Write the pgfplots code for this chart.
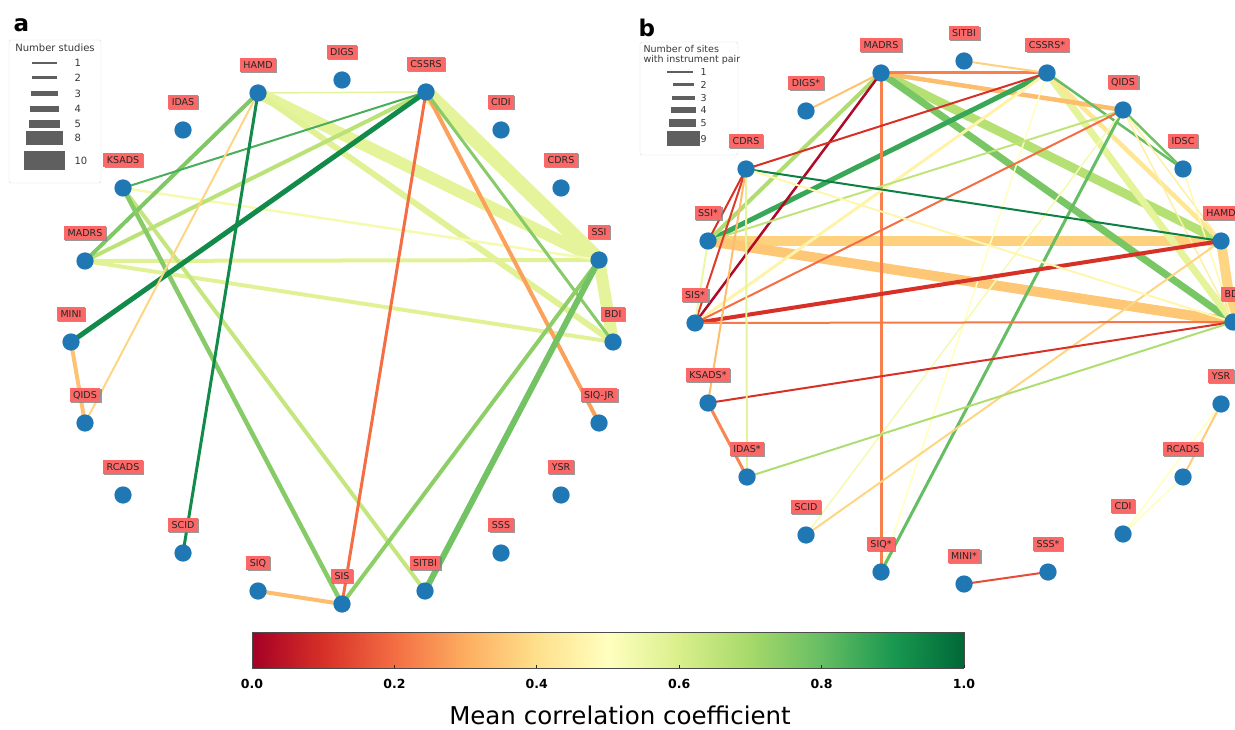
\documentclass[border=0pt]{standalone}
\usepackage{fontspec}
\setmainfont{DejaVu Sans}
\usepackage{pgfplots}
\pgfplotsset{compat=1.18}
\usetikzlibrary{shadows}
\definecolor{nodeblue}{RGB}{31,119,180}
\definecolor{labred}{RGB}{250,104,104}
\definecolor{leggray}{RGB}{95,95,95}
\definecolor{legtxt}{RGB}{55,55,55}
\pgfplotsset{
  colormap={RdYlGn}{rgb255=(165,0,38) rgb255=(215,48,39) rgb255=(244,109,67) rgb255=(253,174,97) rgb255=(254,224,139) rgb255=(255,255,191) rgb255=(217,239,139) rgb255=(166,217,106) rgb255=(102,189,99) rgb255=(26,152,80) rgb255=(0,104,55)},
  edge/.style={mesh, point meta=#1},
  netnodes/.style={only marks, mark=*, mark size=8.5pt,
    mark options={draw=nodeblue, fill=nodeblue, line width=0.1pt},
    nodes near coords, point meta=explicit symbolic,
    every node near coord/.append style={anchor=center, yshift=28pt,
      font=\fontsize{9.5}{11}\selectfont, text=black!85, fill=labred, draw=none,
      inner xsep=3.5pt, inner ysep=2pt, text height=1.55ex, text depth=0.25ex,
      drop shadow={shadow xshift=1.2pt, shadow yshift=-1.2pt, fill=black!50, draw=none, opacity=0.8}}},
  legline/.style={line width=#1, color=leggray, line cap=butt},
}
\begin{document}
\begin{tikzpicture}
\begin{axis}[scale only axis, width=1235pt, height=730pt,
  xmin=0, xmax=1235, ymin=0, ymax=730, y dir=reverse, hide axis,
  colormap name=RdYlGn, point meta min=0, point meta max=1]
% ---------------- panel a edges ----------------
\addplot[edge=0.57, line width=15pt] coordinates {(426,92) (599,260)};
\addplot[edge=0.57, line width=12pt] coordinates {(258,93) (599,260)};
\addplot[edge=0.57, line width=12pt] coordinates {(599,260) (613,342)};
\addplot[edge=0.58, line width=6pt] coordinates {(258,93) (613,342)};
\addplot[edge=0.58, line width=4pt] coordinates {(85,261) (599,260)};
\addplot[edge=0.58, line width=4pt] coordinates {(85,261) (613,342)};
\addplot[edge=0.53, line width=2.5pt] coordinates {(123,188) (599,260)};
\addplot[edge=0.57, line width=1.5pt] coordinates {(258,93) (426,92)};
\addplot[edge=0.64, line width=4pt] coordinates {(123,188) (425,591)};
\addplot[edge=0.66, line width=4pt] coordinates {(85,261) (426,92)};
\addplot[edge=0.76, line width=4pt] coordinates {(258,93) (85,261)};
\addplot[edge=0.75, line width=4.5pt] coordinates {(123,188) (342,604)};
\addplot[edge=0.84, line width=2pt] coordinates {(123,188) (426,92)};
\addplot[edge=0.93, line width=5pt] coordinates {(71,342) (426,92)};
\addplot[edge=0.93, line width=3pt] coordinates {(258,93) (183,553)};
\addplot[edge=0.38, line width=2pt] coordinates {(258,93) (85,423)};
\addplot[edge=0.34, line width=4pt] coordinates {(71,342) (85,423)};
\addplot[edge=0.20, line width=3pt] coordinates {(426,92) (342,604)};
\addplot[edge=0.28, line width=4pt] coordinates {(426,92) (599,423)};
\addplot[edge=0.75, line width=3pt] coordinates {(426,92) (613,342)};
\addplot[edge=0.74, line width=4pt] coordinates {(599,260) (342,604)};
\addplot[edge=0.78, line width=6pt] coordinates {(599,260) (425,591)};
\addplot[edge=0.33, line width=4pt] coordinates {(258,591) (342,604)};
% ---------------- panel b edges ----------------
\addplot[edge=0.37, line width=10pt] coordinates {(708,241) (1221,241)};
\addplot[edge=0.35, line width=10pt] coordinates {(708,241) (1233,322)};
\addplot[edge=0.38, line width=10pt] coordinates {(1221,241) (1233,322)};
\addplot[edge=0.67, line width=9pt] coordinates {(881,73) (1221,241)};
\addplot[edge=0.77, line width=7pt] coordinates {(881,73) (1233,322)};
\addplot[edge=0.57, line width=7pt] coordinates {(1047,73) (1233,322)};
\addplot[edge=0.42, line width=4.5pt] coordinates {(1047,73) (1221,241)};
\addplot[edge=0.33, line width=4.5pt] coordinates {(881,73) (1123,110)};
\addplot[edge=0.86, line width=5pt] coordinates {(708,241) (1047,73)};
\addplot[edge=0.68, line width=4pt] coordinates {(881,73) (708,241)};
\addplot[edge=0.23, line width=3pt] coordinates {(881,73) (1047,73)};
\addplot[edge=0.23, line width=3pt] coordinates {(881,73) (881,572)};
\addplot[edge=0.02, line width=2.5pt] coordinates {(881,73) (695,323)};
\addplot[edge=0.34, line width=2pt] coordinates {(881,73) (806,111)};
\addplot[edge=0.37, line width=2pt] coordinates {(964,61) (1047,73)};
\addplot[edge=0.10, line width=2pt] coordinates {(746,169) (1047,73)};
\addplot[edge=0.46, line width=3pt] coordinates {(695,323) (1047,73)};
\addplot[edge=0.50, line width=1.5pt] coordinates {(881,572) (1047,73)};
\addplot[edge=0.80, line width=2.5pt] coordinates {(1047,73) (1183,169)};
\addplot[edge=0.78, line width=2.5pt] coordinates {(1123,110) (1183,169)};
\addplot[edge=0.45, line width=1.5pt] coordinates {(1123,110) (1221,241)};
\addplot[edge=0.45, line width=1.5pt] coordinates {(1123,110) (1233,322)};
\addplot[edge=0.48, line width=1.5pt] coordinates {(1183,169) (1233,322)};
\addplot[edge=0.65, line width=2pt] coordinates {(708,241) (1123,110)};
\addplot[edge=0.20, line width=2pt] coordinates {(695,323) (1123,110)};
\addplot[edge=0.80, line width=3pt] coordinates {(881,572) (1123,110)};
\addplot[edge=0.53, line width=1.5pt] coordinates {(806,535) (1123,110)};
\addplot[edge=0.95, line width=2pt] coordinates {(746,169) (1221,241)};
\addplot[edge=0.10, line width=4pt] coordinates {(695,323) (1221,241)};
\addplot[edge=0.38, line width=2pt] coordinates {(806,535) (1221,241)};
\addplot[edge=0.47, line width=2pt] coordinates {(746,169) (1233,322)};
\addplot[edge=0.22, line width=2pt] coordinates {(695,323) (1233,322)};
\addplot[edge=0.10, line width=2pt] coordinates {(708,403) (1233,322)};
\addplot[edge=0.68, line width=2pt] coordinates {(747,477) (1233,322)};
\addplot[edge=0.10, line width=2pt] coordinates {(746,169) (708,241)};
\addplot[edge=0.12, line width=2pt] coordinates {(746,169) (695,323)};
\addplot[edge=0.33, line width=2pt] coordinates {(746,169) (708,403)};
\addplot[edge=0.57, line width=2pt] coordinates {(746,169) (747,477)};
\addplot[edge=0.24, line width=3pt] coordinates {(708,403) (747,477)};
\addplot[edge=0.55, line width=2pt] coordinates {(708,241) (695,323)};
\addplot[edge=0.36, line width=2pt] coordinates {(1221,404) (1183,477)};
\addplot[edge=0.50, line width=1.5pt] coordinates {(1221,404) (1123,534)};
\addplot[edge=0.50, line width=1.5pt] coordinates {(1183,477) (1123,534)};
\addplot[edge=0.15, line width=2pt] coordinates {(964,584) (1048,572)};
% ---------------- nodes ----------------
\addplot[netnodes] table[meta=label] {
x y label
258 93 HAMD
342 80 DIGS
426 92 CSSRS
501 130 CIDI
561 188 CDRS
599 260 SSI
613 342 BDI
599 423 SIQ-JR
561 495 YSR
501 553 SSS
425 591 SITBI
342 604 SIS
258 591 SIQ
183 553 SCID
123 495 RCADS
85 423 QIDS
71 342 MINI
85 261 MADRS
123 188 KSADS
183 130 IDAS
};
\addplot[netnodes] table[meta=label] {
x y label
881 73 MADRS
964 61 SITBI
1047 73 CSSRS*
1123 110 QIDS
1183 169 IDSC
1221 241 HAMD
1233 322 BDI
1221 404 YSR
1183 477 RCADS
1123 534 CDI
1048 572 SSS*
964 584 MINI*
881 572 SIQ*
806 535 SCID
747 477 IDAS*
708 403 KSADS*
695 323 SIS*
708 241 SSI*
746 169 CDRS
806 111 DIGS*
};
% ---------------- legend a ----------------
\addplot[legline=1.5pt] coordinates {(32,63) (57,63)};
\addplot[legline=3pt] coordinates {(32,78) (57,78)};
\addplot[legline=5pt] coordinates {(31,94) (58,94)};
\addplot[legline=6.5pt] coordinates {(30,109) (59,109)};
\addplot[legline=8.5pt] coordinates {(29,124) (60,124)};
\addplot[legline=14pt] coordinates {(26,138) (63,138)};
\addplot[legline=19pt] coordinates {(24,161) (65,161)};
\draw[black!15, rounded corners=2pt] (axis cs:9,40) rectangle (axis cs:101,183);
\begin{scope}[font=\fontsize{10}{11}\selectfont, text=legtxt]
\node[anchor=center] at (axis cs:55,48) {Number studies};
\node[anchor=west] at (axis cs:71,63) {1};
\node[anchor=west] at (axis cs:71,78) {2};
\node[anchor=west] at (axis cs:71,94) {3};
\node[anchor=west] at (axis cs:71,109) {4};
\node[anchor=west] at (axis cs:71,124) {5};
\node[anchor=west] at (axis cs:71,138) {8};
\node[anchor=west] at (axis cs:71,161) {10};
\end{scope}
% ---------------- legend b ----------------
\addplot[legline=1.5pt] coordinates {(667,72) (693,72)};
\addplot[legline=3pt] coordinates {(673,85) (694,85)};
\addplot[legline=4.5pt] coordinates {(672,98) (695,98)};
\addplot[legline=6pt] coordinates {(671,110) (696,110)};
\addplot[legline=7.5pt] coordinates {(669,123) (696,123)};
\addplot[legline=15pt] coordinates {(667,139) (700,139)};
\draw[black!15, rounded corners=2pt] (axis cs:640,42) rectangle (axis cs:738,155);
\begin{scope}[font=\fontsize{9.5}{10.5}\selectfont, text=legtxt]
\node[anchor=west] at (axis cs:640,49) {Number of sites};
\node[anchor=west] at (axis cs:640,60) {with instrument pair};
\node[anchor=west] at (axis cs:697,72) {1};
\node[anchor=west] at (axis cs:697,85) {2};
\node[anchor=west] at (axis cs:697,98) {3};
\node[anchor=west] at (axis cs:697,110) {4};
\node[anchor=west] at (axis cs:697,123) {5};
\node[anchor=west] at (axis cs:697,139) {9};
\end{scope}
% ---------------- panel letters and title ----------------
\node[anchor=base west, font=\fontsize{23}{25}\selectfont\bfseries] at (axis cs:10,32) {a};
\node[anchor=base west, font=\fontsize{23}{25}\selectfont\bfseries] at (axis cs:635,37) {b};
\node[anchor=center, font=\fontsize{24.5}{28}\selectfont] at (axis cs:620,715) {Mean correlation coefficient};
\coordinate (BL) at (axis cs:0,730);
\coordinate (TR) at (axis cs:1235,0);
\coordinate (cbsw) at (axis cs:252,668);
\end{axis}
% ---------------- colorbar ----------------
\begin{axis}[at={(cbsw)}, anchor=south west, scale only axis,
  width=712pt, height=36pt, view={0}{90},
  xmin=0, xmax=1, ymin=0, ymax=1, ytick=\empty, ztick=\empty,
  xtick={0,0.2,0.4,0.6,0.8,1}, xtick pos=left, tick align=inside,
  major tick length=3pt,
  tick style={black!85, line width=0.8pt},
  axis line style={black!70, line width=0.6pt},
  colormap name=RdYlGn, point meta min=0, point meta max=1,
  xticklabel style={font=\fontsize{12.5}{14}\selectfont\bfseries, yshift=-8pt},
  xticklabel={\pgfmathprintnumber[fixed,fixed zerofill,precision=1,assume math mode=true]{\tick}}]
\addplot3[surf, shader=interp, mesh/cols=11, point meta=x] coordinates {
(0,0,0) (0.1,0,0) (0.2,0,0) (0.3,0,0) (0.4,0,0) (0.5,0,0) (0.6,0,0) (0.7,0,0) (0.8,0,0) (0.9,0,0) (1,0,0)
(0,1,0) (0.1,1,0) (0.2,1,0) (0.3,1,0) (0.4,1,0) (0.5,1,0) (0.6,1,0) (0.7,1,0) (0.8,1,0) (0.9,1,0) (1,1,0)
};
\end{axis}
\pgfresetboundingbox
\useasboundingbox (BL) rectangle (TR);
\end{tikzpicture}
\end{document}
